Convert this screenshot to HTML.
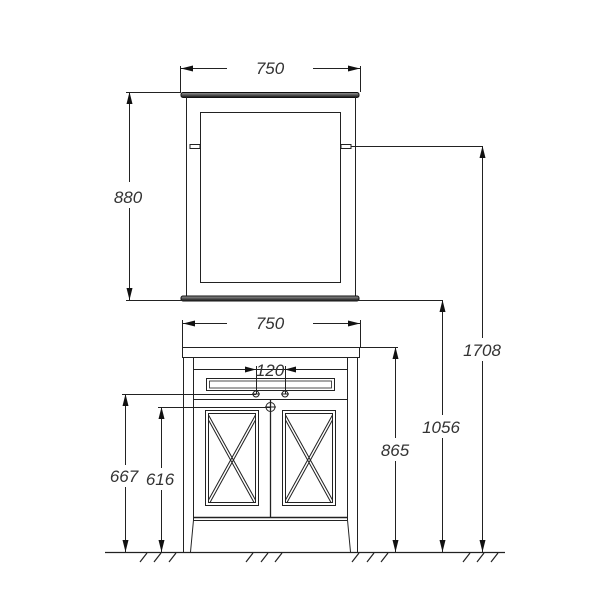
<!DOCTYPE html>
<html><head><meta charset="utf-8"><style>
html,body{margin:0;padding:0;background:#fff;}
svg{display:block;}
text{font-family:"Liberation Sans",sans-serif;font-style:italic;font-size:17px;fill:#333;}
</style></head><body>
<svg width="603" height="616" viewBox="0 0 603 616" xmlns="http://www.w3.org/2000/svg">
<defs>
<linearGradient id="g" x1="0" y1="0" x2="0" y2="1"><stop offset="0" stop-color="#999"/><stop offset="1" stop-color="#111"/></linearGradient>
</defs>
<g fill="none" stroke="#222" stroke-width="1">
<!-- mirror -->
<rect x="181" y="92.5" width="178" height="5" rx="2" fill="url(#g)" stroke="#111"/>
<line x1="186.5" y1="97" x2="186.5" y2="296"/>
<line x1="355.5" y1="97" x2="355.5" y2="296"/>
<rect x="200.5" y="112.5" width="140" height="170"/>
<rect x="190" y="144.5" width="10" height="4"/>
<rect x="341" y="144.5" width="10" height="4"/>
<line x1="351" y1="146.5" x2="482" y2="146.5"/>
<rect x="181" y="296" width="178" height="5" rx="2" fill="url(#g)" stroke="#111"/>
<!-- mirror dims -->
<line x1="180.5" y1="66" x2="180.5" y2="92"/>
<line x1="360.5" y1="66" x2="360.5" y2="92"/>
<line x1="181" y1="68.5" x2="227" y2="68.5"/>
<line x1="313" y1="68.5" x2="360" y2="68.5"/>
<line x1="126" y1="92.5" x2="181" y2="92.5"/>
<line x1="129.5" y1="92" x2="129.5" y2="182"/>
<line x1="129.5" y1="208" x2="129.5" y2="300"/>
<line x1="126" y1="300.5" x2="443" y2="300.5"/>
<!-- vanity -->
<rect x="182.5" y="347.5" width="177" height="10"/>
<line x1="183.5" y1="357" x2="183.5" y2="552"/>
<line x1="357.5" y1="357" x2="357.5" y2="552"/>
<line x1="193.5" y1="357" x2="193.5" y2="520"/>
<line x1="347.5" y1="357" x2="347.5" y2="520"/>
<line x1="193.5" y1="520" x2="190.5" y2="552"/>
<line x1="347.5" y1="520" x2="350.5" y2="552"/>
<line x1="193" y1="369.5" x2="347" y2="369.5"/>
<rect x="206.5" y="378.5" width="128" height="12"/>
<rect x="209.5" y="381" width="122" height="7" stroke-width="0.8"/>
<line x1="193" y1="399.5" x2="347" y2="399.5"/>
<line x1="193" y1="517.5" x2="347" y2="517.5" stroke-width="1.5"/>
<line x1="193" y1="520.5" x2="347" y2="520.5"/>
<line x1="270.5" y1="399" x2="270.5" y2="517" stroke-width="1.3"/>
<!-- panels -->
<rect x="205.5" y="410.5" width="53" height="95"/>
<rect x="208.5" y="413.5" width="47" height="89"/>
<line x1="208.5" y1="415" x2="255.5" y2="500"/><line x1="208.5" y1="420" x2="254" y2="502.5"/>
<line x1="255.5" y1="415" x2="208.5" y2="500"/><line x1="255.5" y1="420" x2="210" y2="502.5"/>
<rect x="282.5" y="410.5" width="53" height="95"/>
<rect x="285.5" y="413.5" width="47" height="89"/>
<line x1="285.5" y1="415" x2="332.5" y2="500"/><line x1="285.5" y1="420" x2="331" y2="502.5"/>
<line x1="332.5" y1="415" x2="285.5" y2="500"/><line x1="332.5" y1="420" x2="287" y2="502.5"/>
<!-- fittings -->
<circle cx="256" cy="394" r="3"/><line x1="252" y1="394" x2="260" y2="394"/>
<circle cx="285" cy="394" r="3"/><line x1="281" y1="394" x2="289" y2="394"/>
<circle cx="270.5" cy="407" r="4.5"/><line x1="265" y1="407" x2="276" y2="407"/>
<!-- 120 -->
<line x1="256.5" y1="366" x2="256.5" y2="394"/>
<line x1="285.5" y1="366" x2="285.5" y2="394"/>
<line x1="244" y1="369.5" x2="256" y2="369.5"/>
<line x1="285" y1="369.5" x2="297" y2="369.5"/>
<!-- vanity 750 -->
<line x1="182.5" y1="320" x2="182.5" y2="347"/>
<line x1="360.5" y1="320" x2="360.5" y2="347"/>
<line x1="183" y1="323.5" x2="227" y2="323.5"/>
<line x1="313" y1="323.5" x2="360" y2="323.5"/>
<!-- 667 / 616 -->
<line x1="122" y1="394.5" x2="256" y2="394.5"/>
<line x1="125.5" y1="394" x2="125.5" y2="465"/>
<line x1="125.5" y1="487" x2="125.5" y2="552"/>
<line x1="158" y1="407.5" x2="270" y2="407.5"/>
<line x1="161.5" y1="407" x2="161.5" y2="468"/>
<line x1="161.5" y1="490" x2="161.5" y2="552"/>
<!-- 865 -->
<line x1="360" y1="347.5" x2="398" y2="347.5"/>
<line x1="395.5" y1="347" x2="395.5" y2="438"/>
<line x1="395.5" y1="461" x2="395.5" y2="552"/>
<!-- 1056 -->
<line x1="442.5" y1="300" x2="442.5" y2="415"/>
<line x1="442.5" y1="438" x2="442.5" y2="552"/>
<!-- 1708 -->
<line x1="482.5" y1="146" x2="482.5" y2="338"/>
<line x1="482.5" y1="361" x2="482.5" y2="552"/>
<!-- ground -->
<line x1="105" y1="552.5" x2="505" y2="552.5" stroke-width="1.2"/>
<g stroke-width="1.2">
<line x1="140" y1="562" x2="147" y2="553"/><line x1="154" y1="562" x2="161" y2="553"/><line x1="169" y1="562" x2="176" y2="553"/>
<line x1="246" y1="562" x2="253" y2="553"/><line x1="261" y1="562" x2="268" y2="553"/><line x1="275" y1="562" x2="282" y2="553"/>
<line x1="352" y1="562" x2="359" y2="553"/><line x1="367" y1="562" x2="374" y2="553"/><line x1="381" y1="562" x2="388" y2="553"/>
<line x1="463" y1="562" x2="470" y2="553"/><line x1="477" y1="562" x2="484" y2="553"/><line x1="491" y1="562" x2="498" y2="553"/>
</g>
</g>
<!-- arrowheads -->
<g fill="#111" stroke="none">
<path d="M181 68.5 l12 -3 v6z"/><path d="M360 68.5 l-12 -3 v6z"/>
<path d="M183 323.5 l12 -3 v6z"/><path d="M360 323.5 l-12 -3 v6z"/>
<path d="M256 369.5 l-11 -3 v6z"/><path d="M285 369.5 l11 -3 v6z"/>
<path d="M129.5 92 l-3 12 h6z"/><path d="M129.5 300 l-3 -12 h6z"/>
<path d="M125.5 394 l-3 12 h6z"/><path d="M125.5 552 l-3 -12 h6z"/>
<path d="M161.5 407 l-3 12 h6z"/><path d="M161.5 552 l-3 -12 h6z"/>
<path d="M395.5 347 l-3 12 h6z"/><path d="M395.5 552 l-3 -12 h6z"/>
<path d="M442.5 300 l-3 12 h6z"/><path d="M442.5 552 l-3 -12 h6z"/>
<path d="M482.5 146 l-3 12 h6z"/><path d="M482.5 552 l-3 -12 h6z"/>
</g>
<text x="270" y="74" text-anchor="middle">750</text>
<text x="270" y="329" text-anchor="middle">750</text>
<text x="270" y="376" text-anchor="middle">120</text>
<text x="128" y="203" text-anchor="middle">880</text>
<text x="124" y="482" text-anchor="middle">667</text>
<text x="160" y="485" text-anchor="middle">616</text>
<text x="395" y="456" text-anchor="middle">865</text>
<text x="441" y="433" text-anchor="middle">1056</text>
<text x="482" y="356" text-anchor="middle">1708</text>
</svg>
</body></html>
